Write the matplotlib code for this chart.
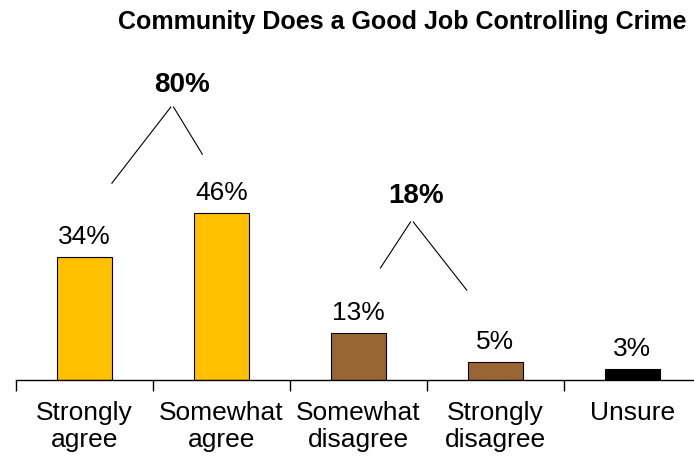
import matplotlib.pyplot as plt
import numpy as np

categories = ['Strongly\nagree', 'Somewhat\nagree', 'Somewhat\ndisagree', 'Strongly\ndisagree', 'Unsure']
values = [34, 46, 13, 5, 3]
labels = ['34%', '46%', '13%', '5%', '3%']
colors = ['#FFC000', '#FFC000', '#996633', '#996633', '#000000']
groups = [(0, 1, '80%'), (2, 3, '18%')]

plt.rcParams['font.family'] = ['Liberation Sans', 'DejaVu Sans']

fig = plt.figure(figsize=(6.94, 4.61), dpi=100)
ax = fig.add_axes([16 / 694, 1 - 380 / 461, 685 / 694, 340 / 461])

x = np.arange(len(values))
ax.bar(x, values, width=0.4, color=colors, edgecolor='black', linewidth=0.8)

for xi, v, lab in zip(x, values, labels):
    ax.text(xi, v + 2.2, lab, ha='center', va='bottom', fontsize=19)

# bracket lines over the grouped bars
for a, b, lab in groups:
    if a == 0:
        left = [(a + 0.20, 54.3), (a + 0.63, 75.3)]
        right = [(a + 0.65, 75.3), (a + 0.86, 62.3)]
        tpos = (a + 0.71, 81.4)
    else:
        left = [(a + 0.16, 30.9), (a + 0.38, 43.6)]
        right = [(a + 0.40, 43.6), (a + 0.79, 24.8)]
        tpos = (a + 0.42, 50.8)
    for seg in (left, right):
        ax.plot([seg[0][0], seg[1][0]], [seg[0][1], seg[1][1]], color='black', linewidth=0.8)
    ax.text(tpos[0], tpos[1], lab, ha='center', va='center', fontsize=20, fontweight='bold')

ax.set_xlim(-0.5, len(values) - 0.5)
ax.set_ylim(0, 340 / 3.625)

for s in ['top', 'right', 'left']:
    ax.spines[s].set_visible(False)
ax.spines['bottom'].set_linewidth(1)
ax.set_yticks([])
ax.set_xticks(x)
ax.set_xticklabels(categories, fontsize=19, linespacing=1.15)
ax.tick_params(axis='x', which='major', length=0, pad=15)
ax.set_xticks(np.arange(len(values)) - 0.5, minor=True)
ax.tick_params(axis='x', which='minor', length=8, width=1, direction='out')

fig.text(402 / 694, 1 - 22 / 461, 'Community Does a Good Job Controlling Crime',
         ha='center', va='center', fontsize=18, fontweight='bold')

fig.savefig('out.png', dpi=100)
